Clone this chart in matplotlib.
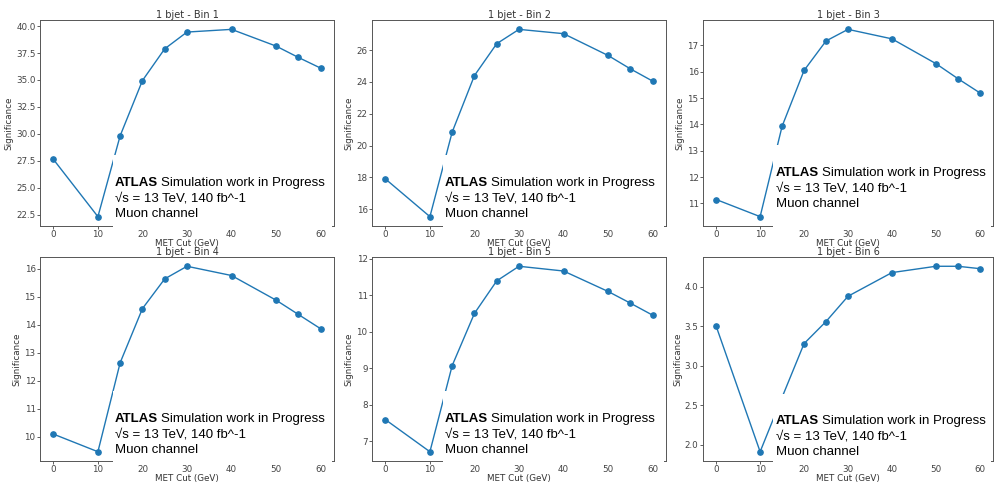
import matplotlib
matplotlib.use("Agg")
import matplotlib.pyplot as plt
from matplotlib.patches import Rectangle

met_cut = [0, 10, 15, 20, 25, 30, 40, 50, 55, 60]
sig_bin1 = [27.65, 22.34, 29.84, 34.95, 37.89, 39.44, 39.69, 38.14, 37.09, 36.10]
sig_bin2 = [17.91, 15.54, 20.85, 24.40, 26.40, 27.30, 27.03, 25.66, 24.82, 24.05]
sig_bin3 = [11.15, 10.50, 13.93, 16.05, 17.17, 17.61, 17.25, 16.31, 15.74, 15.20]
sig_bin4 = [10.09, 9.46, 12.64, 14.57, 15.63, 16.08, 15.75, 14.87, 14.36, 13.85]
sig_bin5 = [7.59, 6.71, 9.07, 10.50, 11.39, 11.79, 11.66, 11.10, 10.78, 10.45]
sig_bin6 = [3.50, 1.91, 2.60, 3.28, 3.56, 3.88, 4.18, 4.26, 4.26, 4.23]
titles = ["1 bjet - Bin 1", "1 bjet - Bin 2", "1 bjet - Bin 3",
          "1 bjet - Bin 4", "1 bjet - Bin 5", "1 bjet - Bin 6"]
series = [sig_bin1, sig_bin2, sig_bin3, sig_bin4, sig_bin5, sig_bin6]

W, H = 994, 484
fig = plt.figure(figsize=(W / 100, H / 100), dpi=100)

# axes boxes in pixels: left, top, right, bottom
ax_px = [(40, 20, 334, 226), (372, 20, 666, 226), (703, 20, 993, 226),
         (40, 257, 334, 461), (372, 257, 666, 461), (703, 257, 993, 461)]
# white overlay boxes (left, top, right, bottom) and text anchor (x, first line y)
box_px = [(113, 155, 332, 229.5), (443, 155, 664, 229.5), (773, 145, 991, 229.5),
          (113, 391, 332, 464.5), (443, 391, 664, 464.5), (773, 394, 991, 464.5)]
txt_px = [(115, 183), (445, 183), (776, 173), (115, 419), (445, 419), (776, 421)]

spine_col = "#555555"
for i, (l, t, r, b) in enumerate(ax_px):
    ax = fig.add_axes([l / W, 1 - b / H, (r - l) / W, (b - t) / H])
    ax.plot(met_cut, series[i], color="#1f77b4", marker="o", markersize=3.8, linewidth=1.0)
    ax.set_title(titles[i], fontsize=7, pad=1.5, color="#333333")
    ax.set_xlabel("MET Cut (GeV)", fontsize=6.3, labelpad=0.0, color="#333333")
    ax.set_ylabel("Significance", fontsize=6.3, labelpad=2, color="#333333")
    ax.set_xticks([0, 10, 20, 30, 40, 50, 60])
    ax.tick_params(labelsize=6.3, length=2.3, width=0.6, pad=0.9, colors="#444444")
    for s in ax.spines.values():
        s.set_color(spine_col)
        s.set_linewidth(0.7)

renderer = fig.canvas.get_renderer()
fam = ["Liberation Sans", "DejaVu Sans"]
fs = 9.5
for i in range(6):
    l, t, r, b = box_px[i]
    fig.patches.append(Rectangle((l / W, 1 - b / H), (r - l) / W, (b - t) / H,
                                 transform=fig.transFigure, facecolor="white",
                                 edgecolor="none", zorder=10))
    x0, y0 = txt_px[i]
    t1 = fig.text(x0 / W, 1 - y0 / H, "ATLAS", fontsize=fs, fontweight="bold",
                  family=fam, va="center", ha="left", zorder=11)
    bb = t1.get_window_extent(renderer=renderer)
    fig.text((bb.x1 + 3.2) / W, 1 - y0 / H, "Simulation work in Progress", fontsize=fs,
             family=fam, va="center", ha="left", zorder=11)
    fig.text(x0 / W, 1 - (y0 + 15.5) / H, "√s = 13 TeV, 140 fb^-1", fontsize=fs,
             family=fam, va="center", ha="left", zorder=11)
    fig.text(x0 / W, 1 - (y0 + 31) / H, "Muon channel", fontsize=fs,
             family=fam, va="center", ha="left", zorder=11)

fig.savefig("out.png", dpi=100)
